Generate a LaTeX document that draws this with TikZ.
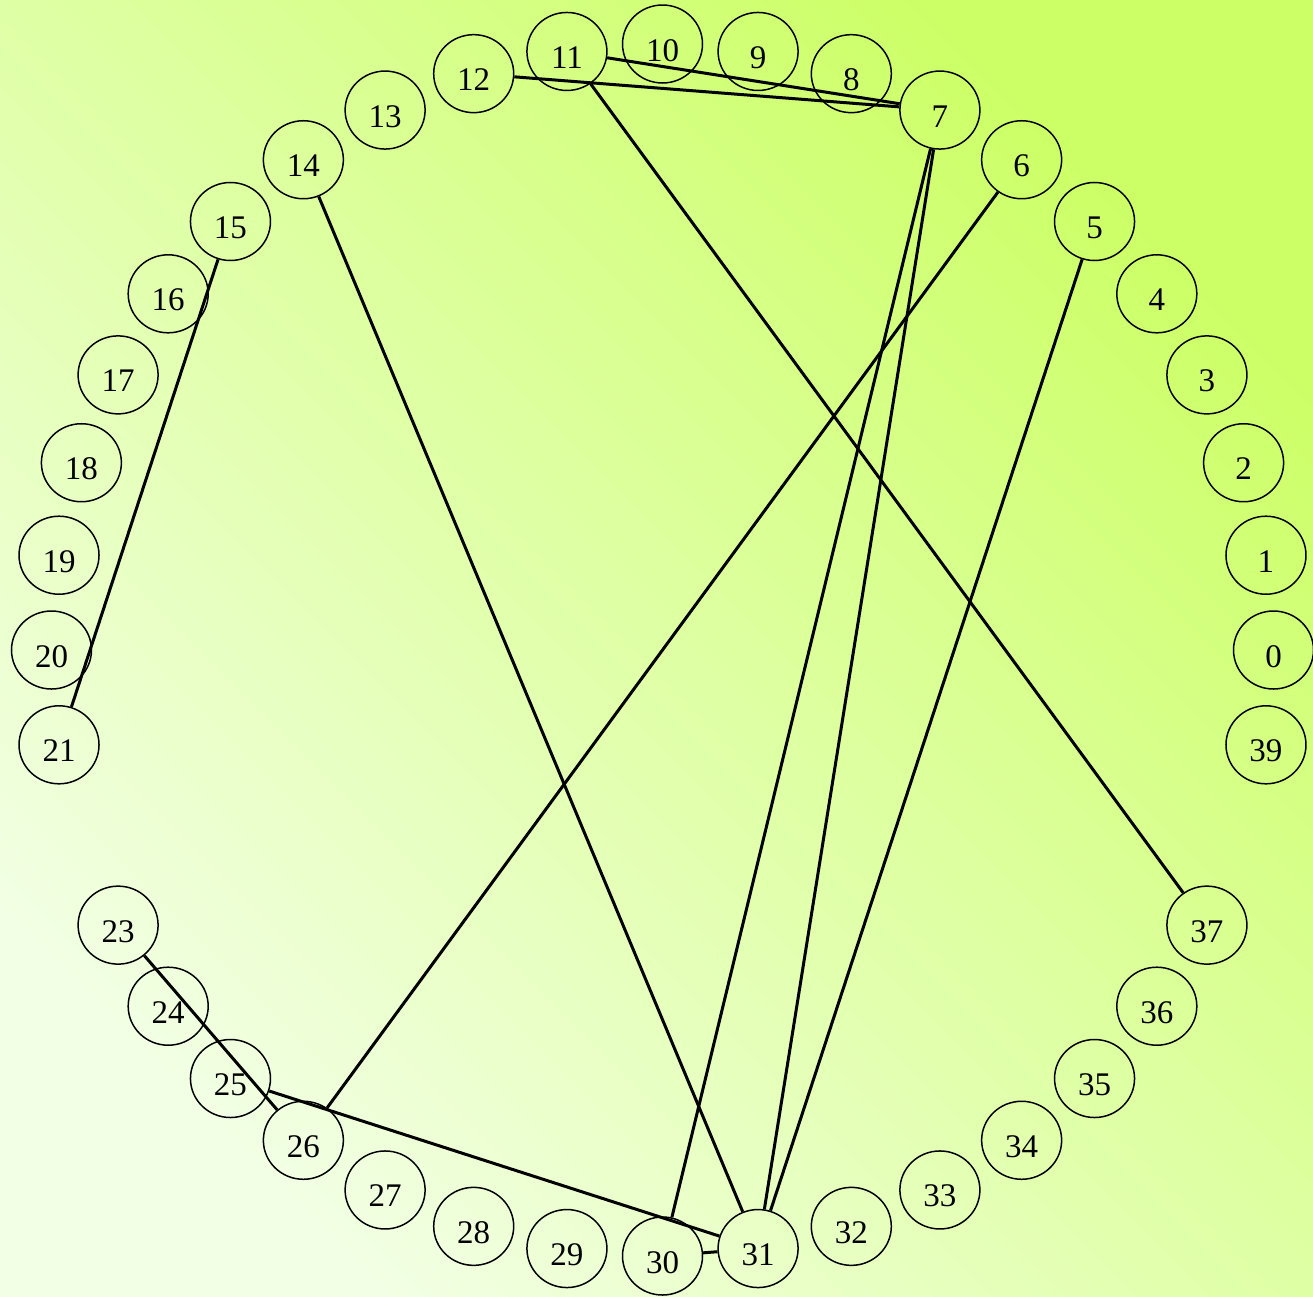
\documentclass[tikz,border=0pt]{standalone}
\usepackage{fontspec}
\setmainfont{Liberation Serif}
\usetikzlibrary{shapes.geometric}
\definecolor{bgbright}{RGB}{204,255,102}
\definecolor{bgpale}{RGB}{242,255,228}
\begin{document}
\begin{tikzpicture}[x=1pt,y=1pt,
  vnode/.style={draw, ellipse, line width=1.5pt, minimum width=80pt, minimum height=78pt,
    inner sep=0pt, text height=34pt, text depth=0pt, font=\fontsize{33}{40}\selectfont},
  link/.style={line width=3pt}]
\shade[left color=bgpale, right color=bgbright, shading angle=135] (0,0) rectangle (1313,-1296);
\useasboundingbox (0,0) rectangle (1313,-1296);
\foreach \k in {0,1,2,3,4,5,6,7,8,9,10,11,12,13,14,15,16,17,18,19,20,21,23,24,25,26,27,28,29,30,31,32,33,34,35,36,37,39}
  \node[vnode] (n\k) at ({662.5+611*cos(9*\k)}, {-650+606*sin(9*\k)}) {\k};
\draw[link] (n11) -- (n7);
\draw[link] (n12) -- (n7);
\draw[link] (n11) -- (n37);
\draw[link] (n14) -- (n31);
\draw[link] (n15) -- (n21);
\draw[link] (n6) -- (n26);
\draw[link] (n7) -- (n30);
\draw[link] (n7) -- (n31);
\draw[link] (n5) -- (n31);
\draw[link] (n23) -- (n26);
\draw[link] (n25) -- (n31);
\draw[link] (n30) -- (n31);
\end{tikzpicture}
\end{document}
